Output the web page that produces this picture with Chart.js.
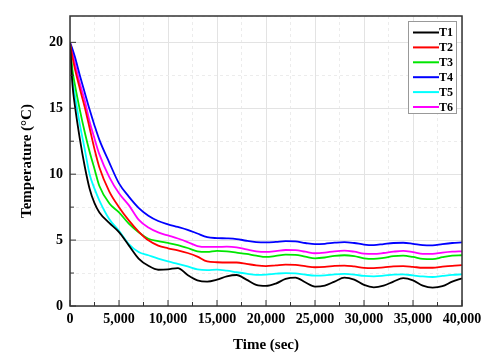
<!DOCTYPE html>
<html>
<head>
<meta charset="utf-8">
<script src="https://cdn.jsdelivr.net/npm/chart.js@4/dist/chart.umd.min.js"></script>
<style>
  html, body { margin: 0; padding: 0; background: #fff; }
  #wrap { width: 487px; height: 358px; }
</style>
</head>
<body>
<div id="wrap"><canvas id="tempChart" width="487" height="358"></canvas></div>
<script>
// time points (sec)
const times = [0, 250, 500, 1000, 1500, 2000, 2500, 3000, 4000, 5000, 6000, 7000, 8000, 9000, 10000,
  11000, 12000, 13000, 14000, 15000, 16000, 17000, 18000, 19000, 20000, 21000, 22000, 23000, 24000,
  25000, 26000, 27000, 28000, 29000, 30000, 31000, 32000, 33000, 34000, 35000, 36000, 37000, 38000, 39000, 40000];

const labels = ['T1', 'T2', 'T3', 'T4', 'T5', 'T6'];
const colors = ['#000000', '#ff0000', '#00e600', '#0000ff', '#00ffff', '#ff00ff'];

const t1 = [20, 16.8, 15.2, 12.7, 10.6, 8.9, 7.8, 7.1, 6.3, 5.6, 4.6, 3.6, 3.05, 2.75, 2.78,
  2.88, 2.35, 1.95, 1.85, 2.0, 2.25, 2.35, 2.0, 1.6, 1.52, 1.7, 2.05, 2.15, 1.8,
  1.47, 1.55, 1.85, 2.15, 2.0, 1.6, 1.42, 1.55, 1.85, 2.12, 1.95, 1.55, 1.4, 1.5, 1.85, 2.1];
const t2 = [20, 18.9, 18.0, 16.5, 15.1, 13.5, 11.9, 10.5, 8.7, 7.5, 6.5, 5.65, 4.98, 4.58, 4.38,
  4.22, 4.02, 3.75, 3.38, 3.32, 3.3, 3.3, 3.2, 3.08, 3.02, 3.08, 3.14, 3.12, 3.02,
  2.94, 2.97, 3.04, 3.07, 3.0, 2.9, 2.88, 2.93, 3.0, 3.03, 2.97, 2.9, 2.9, 2.98, 3.05, 3.1];
const t3 = [20, 17.9, 16.8, 14.9, 13.2, 11.7, 10.4, 9.1, 7.8, 7.1, 6.25, 5.6, 5.1, 4.92, 4.78,
  4.62, 4.4, 4.15, 4.1, 4.18, 4.15, 4.05, 3.95, 3.82, 3.72, 3.8, 3.9, 3.88, 3.75,
  3.62, 3.68, 3.8, 3.85, 3.78, 3.62, 3.57, 3.65, 3.78, 3.82, 3.72, 3.58, 3.55, 3.7, 3.82, 3.85];
const t4 = [20, 19.5, 18.9, 17.5, 16.2, 14.9, 13.7, 12.6, 10.9, 9.3, 8.3, 7.45, 6.85, 6.45, 6.2,
  6.0, 5.78, 5.5, 5.22, 5.15, 5.13, 5.08, 4.95, 4.85, 4.82, 4.86, 4.92, 4.9, 4.78,
  4.69, 4.72, 4.8, 4.85, 4.78, 4.66, 4.62, 4.7, 4.78, 4.8, 4.72, 4.62, 4.6, 4.7, 4.78, 4.82];
const t5 = [20, 17.2, 16.0, 13.8, 11.9, 10.0, 8.9, 8.0, 6.6, 5.7, 4.7, 4.1, 3.85, 3.6, 3.38,
  3.2, 3.0, 2.78, 2.72, 2.76, 2.68, 2.56, 2.45, 2.36, 2.38, 2.45, 2.5, 2.48, 2.38,
  2.3, 2.32, 2.4, 2.43, 2.38, 2.28, 2.25, 2.3, 2.38, 2.4, 2.32, 2.24, 2.2, 2.28, 2.36, 2.4];
const t6 = [20, 19.2, 18.4, 16.9, 15.6, 14.0, 12.7, 11.5, 9.8, 8.55, 7.65, 6.55, 5.95, 5.58, 5.35,
  5.12, 4.85, 4.55, 4.48, 4.48, 4.5, 4.45, 4.3, 4.15, 4.1, 4.16, 4.25, 4.24, 4.12,
  4.0, 4.05, 4.15, 4.2, 4.12, 3.98, 3.95, 4.02, 4.12, 4.18, 4.08, 3.96, 3.95, 4.05, 4.12, 4.15];

const series = [t1, t2, t3, t4, t5, t6];

const serif = '"Liberation Serif", "Times New Roman", serif';

// frame, inner tick marks and boxed legend
const framePlugin = {
  id: 'frame',
  afterDatasetsDraw(chart) {
    const { ctx, chartArea: a, scales } = chart;
    ctx.save();
    ctx.strokeStyle = '#333';
    ctx.lineWidth = 1.5;
    ctx.strokeRect(a.left, a.top, a.right - a.left, a.bottom - a.top);
    ctx.lineWidth = 1;
    ctx.beginPath();
    scales.x.ticks.forEach(t => {
      const px = scales.x.getPixelForValue(t.value);
      const len = t.value % 5000 === 0 ? 6 : 4;
      ctx.moveTo(px, a.bottom); ctx.lineTo(px, a.bottom - len);
    });
    scales.y.ticks.forEach(t => {
      if (t.value > 20) return;
      const py = scales.y.getPixelForValue(t.value);
      const len = t.value % 5 === 0 ? 6 : 4;
      ctx.moveTo(a.left, py); ctx.lineTo(a.left + len, py);
    });
    ctx.stroke();

    // legend
    const bx = 408, by = 21, bw = 48, bh = 92;
    ctx.fillStyle = '#fff';
    ctx.fillRect(bx, by, bw, bh);
    ctx.strokeStyle = '#999';
    ctx.lineWidth = 1;
    ctx.strokeRect(bx + 0.5, by + 0.5, bw, bh);
    ctx.font = 'bold 12px ' + serif;
    ctx.textBaseline = 'middle';
    chart.data.datasets.forEach((ds, i) => {
      const y = 32.5 + i * 14.9;
      ctx.strokeStyle = ds.borderColor;
      ctx.lineWidth = 2;
      ctx.beginPath();
      ctx.moveTo(413, y); ctx.lineTo(439, y);
      ctx.stroke();
      ctx.fillStyle = '#000';
      ctx.fillText(ds.label, 439, y + 0.5);
    });
    ctx.restore();
  }
};

new Chart(document.getElementById('tempChart'), {
  type: 'line',
  data: {
    labels: times,
    datasets: series.map((s, i) => ({
      label: labels[i],
      data: s.map((v, j) => ({ x: times[j], y: v })),
      borderColor: colors[i],
      borderWidth: 1.8,
      pointRadius: 0,
      cubicInterpolationMode: 'monotone',
      fill: false
    }))
  },
  options: {
    responsive: false,
    animation: false,
    layout: { padding: { top: 16, right: 25, left: 0, bottom: 0 } },
    plugins: { legend: { display: false }, tooltip: { enabled: false } },
    scales: {
      x: {
        type: 'linear',
        min: 0, max: 40000,
        afterFit(scale) { scale.height = 52; },
        ticks: {
          stepSize: 2500,
          autoSkip: false,
          maxRotation: 0,
          padding: 5,
          color: '#000',
          font: { family: serif, size: 14, weight: 'bold' },
          callback: v => (v % 5000 === 0 ? v.toLocaleString('en-US') : '')
        },
        grid: {
          drawTicks: false,
          color: ctx => (ctx.tick && ctx.tick.value % 5000 === 0 ? '#e3e3e3' : '#ececec'),
          lineWidth: 1
        },
        border: {
          display: false,
          dash: ctx => (ctx.tick && ctx.tick.value % 5000 === 0 ? [] : [3, 3])
        },
        title: {
          display: true,
          text: 'Time (sec)',
          color: '#000',
          font: { family: serif, size: 15, weight: 'bold' },
          padding: { top: 0, bottom: 4 }
        }
      },
      y: {
        min: 0, max: 22,
        afterFit(scale) { scale.width = 70; },
        ticks: {
          stepSize: 2.5,
          padding: 7,
          color: '#000',
          font: { family: serif, size: 14, weight: 'bold' },
          callback: v => (v % 5 === 0 && v <= 20 ? v : '')
        },
        grid: {
          drawTicks: false,
          color: ctx => (ctx.tick && ctx.tick.value % 5 === 0 ? '#e3e3e3' : '#ececec'),
          lineWidth: 1
        },
        border: {
          display: false,
          dash: ctx => (ctx.tick && ctx.tick.value % 5 === 0 ? [] : [3, 3])
        },
        title: {
          display: true,
          text: 'Temperature (\u00B0C)',
          color: '#000',
          font: { family: serif, size: 15, weight: 'bold' },
          padding: { top: 18, bottom: 0 }
        }
      }
    }
  },
  plugins: [framePlugin]
});
</script>
</body>
</html>
